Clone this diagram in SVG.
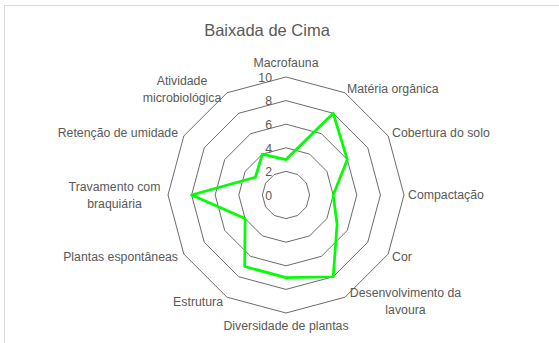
<svg xmlns="http://www.w3.org/2000/svg" width="559" height="343" viewBox="0 0 559 343">
<style>
.ring{fill:none;stroke:#595959;stroke-width:0.9}
.lbl{font-family:"Liberation Sans",Arial,sans-serif;font-size:12.3px;fill:#595959}
.val{font-family:"Liberation Sans",Arial,sans-serif;font-size:12.3px;fill:#595959;text-anchor:end}
.title{font-family:"Liberation Sans",Arial,sans-serif;font-size:16.5px;fill:#595959;text-anchor:middle}
.series{fill:none;stroke:#00FF00;stroke-width:2.75;stroke-linejoin:round}
</style>
<rect x="0" y="0" width="559" height="343" fill="#ffffff"/>
<path d="M4.5,343 V5.5 H559" fill="none" stroke="#d9d9d9" stroke-width="1"/>
<text class="title" x="267" y="36">Baixada de Cima</text>
<g id="grid">
<polygon class="ring" points="286,171.4 297.8,174.56 306.44,183.2 309.6,195 306.44,206.8 297.8,215.44 286,218.6 274.2,215.44 265.56,206.8 262.4,195 265.56,183.2 274.2,174.56"/>
<polygon class="ring" points="286,147.8 309.6,154.12 326.88,171.4 333.2,195 326.88,218.6 309.6,235.88 286,242.2 262.4,235.88 245.12,218.6 238.8,195 245.12,171.4 262.4,154.12"/>
<polygon class="ring" points="286,124.2 321.4,133.69 347.31,159.6 356.8,195 347.31,230.4 321.4,256.31 286,265.8 250.6,256.31 224.69,230.4 215.2,195 224.69,159.6 250.6,133.69"/>
<polygon class="ring" points="286,100.6 333.2,113.25 367.75,147.8 380.4,195 367.75,242.2 333.2,276.75 286,289.4 238.8,276.75 204.25,242.2 191.6,195 204.25,147.8 238.8,113.25"/>
<polygon class="ring" points="286,77 345,92.81 388.19,136 404,195 388.19,254 345,297.19 286,313 227,297.19 183.81,254 168,195 183.81,136 227,92.81"/>
</g>
<g id="values">
<text class="val" x="272" y="200">0</text>
<text class="val" x="272" y="176">2</text>
<text class="val" x="272" y="152.5">4</text>
<text class="val" x="272" y="129">6</text>
<text class="val" x="272" y="105">8</text>
<text class="val" x="272" y="82">10</text>
</g>
<g id="series">
<polygon class="series" points="286,159.6 333.2,113.25 347.31,159.6 333.2,195 337.09,224.5 333.2,276.75 286,277.6 244.7,266.53 245.12,218.6 191.6,195 255.34,177.3 262.4,154.12"/>
</g>
<g id="labels">
<g id="macrofauna"><text class="lbl" x="286" y="67" text-anchor="middle">Macrofauna</text></g>
<g id="materia"><text class="lbl" x="347" y="93">Matéria orgânica</text></g>
<g id="cobertura"><text class="lbl" x="392" y="137">Cobertura do solo</text></g>
<g id="compactacao"><text class="lbl" x="408" y="199">Compactação</text></g>
<g id="cor"><text class="lbl" x="392" y="261">Cor</text></g>
<g id="desenvolvimento"><text class="lbl" x="405.5" y="297" text-anchor="middle">Desenvolvimento da</text><text class="lbl" x="405.5" y="314" text-anchor="middle">lavoura</text></g>
<g id="diversidade"><text class="lbl" x="286" y="330" text-anchor="middle">Diversidade de plantas</text></g>
<g id="estrutura"><text class="lbl" x="223" y="306" text-anchor="end">Estrutura</text></g>
<g id="plantas"><text class="lbl" x="178" y="261" text-anchor="end">Plantas espontâneas</text></g>
<g id="travamento"><text class="lbl" x="114.5" y="191" text-anchor="middle">Travamento com</text><text class="lbl" x="114.5" y="208" text-anchor="middle">braquiária</text></g>
<g id="retencao"><text class="lbl" x="178" y="137" text-anchor="end">Retenção de umidade</text></g>
<g id="atividade"><text class="lbl" x="182" y="85" text-anchor="middle">Atividade</text><text class="lbl" x="182" y="102" text-anchor="middle">microbiológica</text></g>
</g>
</svg>
